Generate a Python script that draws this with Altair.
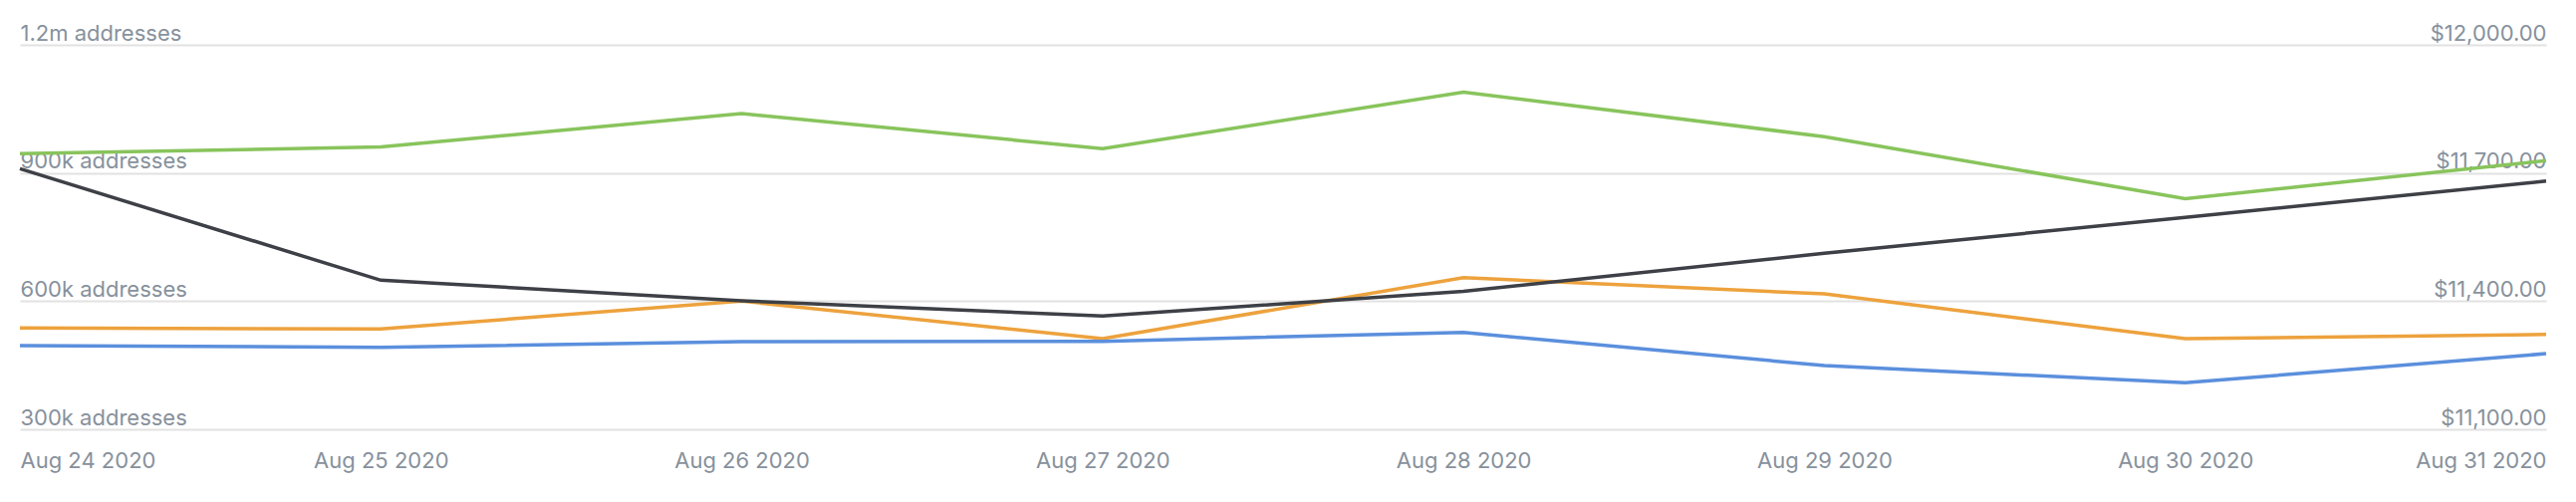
import altair as alt
import pandas as pd

dates = ["Aug 24 2020", "Aug 25 2020", "Aug 26 2020", "Aug 27 2020",
         "Aug 28 2020", "Aug 29 2020", "Aug 30 2020", "Aug 31 2020"]

green_addresses = [945000, 961000, 1039000, 957000, 1089000, 985000, 840000, 929000]
orange_addresses = [537000, 535000, 600000, 512000, 655000, 617000, 512000, 522000]
blue_addresses = [496000, 492000, 505000, 506000, 527000, 449000, 409000, 477000]
price_usd = [11710, 11449, 11401, 11365, 11423, 11512, 11596, 11681]

series_names = ["Active", "Sending", "Receiving"]
series_colors = ["#88c45c", "#eda23d", "#5b8fdd"]
price_color = "#3d4046"
text_color = "#87919c"
grid_color = "#e2e2e2"
FONT = "Inter"

rows = []
for name, vals in zip(series_names, [green_addresses, orange_addresses, blue_addresses]):
    for d, v in zip(dates, vals):
        rows.append({"date": d, "series": name, "value": v})
addr_df = pd.DataFrame(rows)
price_df = pd.DataFrame({"date": dates, "price": price_usd})

x_enc = alt.X(
    "date:O",
    sort=dates,
    scale=alt.Scale(type="point", padding=0),
    axis=alt.Axis(
        title=None, ticks=False, domain=False, grid=False,
        labelAngle=0, labelFlush=True, labelPadding=38,
        labelBaseline="alphabetic", labelFont=FONT, labelFontSize=22,
        labelColor=text_color,
    ),
)

left = alt.Chart(addr_df).mark_line(strokeWidth=3.5).encode(
    x=x_enc,
    y=alt.Y(
        "value:Q",
        scale=alt.Scale(domain=[300000, 1200000], nice=False, zero=False),
        axis=alt.Axis(
            title=None, orient="left", values=[300000, 600000, 900000, 1200000],
            labelExpr="datum.value >= 1000000 ? format(datum.value/1000000, '.1f') + 'm addresses' : format(datum.value/1000, 'd') + 'k addresses'",
            ticks=False, tickSize=0, domain=False, grid=True,
            gridColor=grid_color, gridWidth=2,
            labelAlign="left", labelBaseline="alphabetic", labelPadding=0,
            labelOffset=-5, labelFont=FONT, labelFontSize=22, labelColor=text_color,
            labelBound=False,
        ),
    ),
    color=alt.Color("series:N", sort=series_names,
                    scale=alt.Scale(domain=series_names, range=series_colors),
                    legend=None),
)

right = alt.Chart(price_df).mark_line(strokeWidth=3.5, color=price_color).encode(
    x=x_enc,
    y=alt.Y(
        "price:Q",
        scale=alt.Scale(domain=[11100, 12000], nice=False, zero=False),
        axis=alt.Axis(
            title=None, orient="right", values=[11100, 11400, 11700, 12000],
            format="$,.2f",
            ticks=False, tickSize=0, domain=False, grid=False,
            labelAlign="right", labelBaseline="alphabetic", labelPadding=0,
            labelOffset=-5, labelFont=FONT, labelFontSize=22, labelColor=text_color,
            labelBound=False,
        ),
    ),
)

chart = alt.layer(left, right).resolve_scale(y="independent").properties(
    width=2536, height=386,
    autosize=alt.AutoSizeParams(type="none"),
    padding={"left": 12, "top": 37, "right": 22, "bottom": 60},
).configure_view(stroke=None)

chart.save("out.html", embed_options={"renderer": "svg", "actions": False})
